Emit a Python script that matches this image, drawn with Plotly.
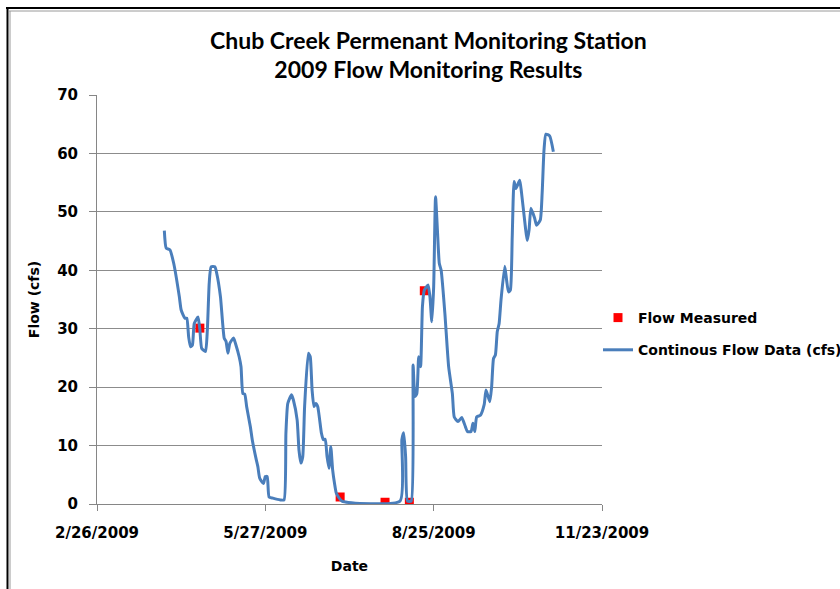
import plotly.graph_objects as go

# Continuous flow data (cfs)
flow_dates = [
    "2009-04-03", "2009-04-04", "2009-04-06", "2009-04-08", "2009-04-11", "2009-04-12",
    "2009-04-14", "2009-04-15", "2009-04-16", "2009-04-17", "2009-04-18", "2009-04-19",
    "2009-04-21", "2009-04-22", "2009-04-23", "2009-04-25", "2009-04-26", "2009-04-27",
    "2009-04-28", "2009-04-30", "2009-05-01", "2009-05-03", "2009-05-05", "2009-05-06",
    "2009-05-07", "2009-05-08", "2009-05-10", "2009-05-11", "2009-05-13", "2009-05-14",
    "2009-05-15", "2009-05-16", "2009-05-17", "2009-05-19", "2009-05-20", "2009-05-22",
    "2009-05-23", "2009-05-24", "2009-05-26", "2009-05-27", "2009-05-28", "2009-05-29",
    "2009-05-31", "2009-06-04", "2009-06-06", "2009-06-07", "2009-06-08", "2009-06-10",
    "2009-06-11", "2009-06-13", "2009-06-14", "2009-06-15", "2009-06-16", "2009-06-17",
    "2009-06-19", "2009-06-20", "2009-06-21", "2009-06-22", "2009-06-23", "2009-06-24",
    "2009-06-26", "2009-06-27", "2009-06-28", "2009-06-29", "2009-06-30", "2009-07-01",
    "2009-07-02", "2009-07-03", "2009-07-04", "2009-07-07", "2009-08-07", "2009-08-08",
    "2009-08-09", "2009-08-10", "2009-08-11", "2009-08-13", "2009-08-14", "2009-08-15",
    "2009-08-16", "2009-08-17", "2009-08-18", "2009-08-19", "2009-08-20", "2009-08-22",
    "2009-08-23", "2009-08-24", "2009-08-25", "2009-08-26", "2009-08-27", "2009-08-28",
    "2009-08-29", "2009-08-31", "2009-09-02", "2009-09-04", "2009-09-05", "2009-09-07",
    "2009-09-09", "2009-09-11", "2009-09-12", "2009-09-14", "2009-09-15", "2009-09-16",
    "2009-09-17", "2009-09-19", "2009-09-21", "2009-09-22", "2009-09-24", "2009-09-25",
    "2009-09-26", "2009-09-27", "2009-09-28", "2009-09-29", "2009-09-30", "2009-10-02",
    "2009-10-03", "2009-10-04", "2009-10-05", "2009-10-06", "2009-10-07", "2009-10-08",
    "2009-10-10", "2009-10-11", "2009-10-13", "2009-10-14", "2009-10-15", "2009-10-16",
    "2009-10-18", "2009-10-19", "2009-10-21", "2009-10-22", "2009-10-23", "2009-10-24",
    "2009-10-26", "2009-10-28",
]
flow_values = [
    46.8, 43.8, 43.5, 41.2, 35.5, 33.2,
    31.8, 31.8, 28.6, 26.9, 27.2, 30.9,
    32.0, 29.8, 26.6, 26.1, 29.8, 37.8,
    40.6, 40.6, 39.5, 35.5, 28.4, 27.8,
    25.8, 27.5, 28.4, 27.5, 25.2, 23.5,
    18.9, 18.8, 16.7, 13.2, 11.0, 7.8,
    6.4, 4.4, 3.5, 4.7, 4.7, 1.2,
    1.0, 0.7, 0.7, 12.1, 17.2, 18.7,
    17.8, 14.4, 9.2, 7.0, 8.1, 16.7,
    25.8, 25.2, 19.5, 16.7, 17.2, 16.7,
    12.1, 11.0, 11.1, 8.1, 6.1, 9.8,
    5.8, 3.5, 1.8, 0.5, 0.5, 11.0,
    12.2, 8.1, 0.5, 0.5, 23.8, 18.4,
    18.9, 25.2, 23.5, 33.8, 36.6, 37.5,
    35.5, 31.2, 37.2, 52.6, 46.9, 41.2,
    40.0, 32.6, 23.5, 18.9, 14.9, 14.1,
    14.8, 13.2, 12.4, 12.4, 13.8, 12.4,
    14.9, 15.2, 17.0, 19.5, 17.5, 20.1,
    24.9, 25.5, 29.5, 30.9, 34.9, 40.7,
    38.3, 36.3, 36.6, 45.7, 55.2, 54.0,
    55.4, 53.2, 47.5, 45.1, 46.9, 50.6,
    48.9, 47.7, 48.6, 53.2, 60.6, 63.3,
    63.0, 60.3,
]

# Flow measured
measured_dates = ["2009-04-22", "2009-07-06", "2009-07-30", "2009-08-12", "2009-08-20"]
measured_values = [30.1, 1.2, 0.3, 0.3, 36.5]

tick_dates = ["2009-02-26", "2009-05-27", "2009-08-25", "2009-11-23"]
tick_labels = ["2/26/2009", "5/27/2009", "8/25/2009", "11/23/2009"]

TITLE_FONT = "Lato, 'Open Sans', sans-serif"
FONT = "'DejaVu Sans', Verdana, sans-serif"

fig = go.Figure()
fig.add_trace(go.Scatter(
    x=measured_dates, y=measured_values, mode="markers", name="<b>Flow Measured</b>",
    marker=dict(symbol="square", size=9, color="#FF0000"),
    legendgroup="m",
))
fig.add_trace(go.Scatter(
    x=flow_dates, y=flow_values, mode="lines", name="<b>Continous Flow Data (cfs)</b>",
    line=dict(color="#4A7EBB", width=3, shape="spline", smoothing=0.5),
    legendgroup="f",
))

L, R, T, B = 97, 602, 95, 504


def px_x(p):
    return (p - L) / (R - L)


def px_y(p):
    return (B - p) / (B - T)


shapes = [
    dict(type="line", xref="paper", yref="paper", x0=px_x(6), x1=px_x(845), y0=px_y(8), y1=px_y(8),
         line=dict(color="#000000", width=2)),
    dict(type="line", xref="paper", yref="paper", x0=px_x(9), x1=px_x(845), y0=px_y(11), y1=px_y(11),
         line=dict(color="#9a9a9a", width=1)),
    dict(type="line", xref="paper", yref="paper", x0=px_x(7.5), x1=px_x(7.5), y0=px_y(7), y1=px_y(595),
         line=dict(color="#000000", width=2)),
    dict(type="line", xref="paper", yref="paper", x0=px_x(10), x1=px_x(10), y0=px_y(11), y1=px_y(595),
         line=dict(color="#9a9a9a", width=1)),
]

fig.update_layout(
    width=840, height=589,
    margin=dict(l=L, r=840 - R, t=T, b=589 - B, autoexpand=False),
    paper_bgcolor="white", plot_bgcolor="white",
    font=dict(family=FONT, color="#000000"),
    title=dict(
        text="<b>Chub Creek Permenant Monitoring Station<br>2009 Flow Monitoring Results</b>",
        x=0.51, xref="container", xanchor="center",
        y=1 - 48.5 / 589, yref="container", yanchor="middle",
        font=dict(size=23, family=TITLE_FONT),
    ),
    showlegend=True,
    legend=dict(
        x=px_x(598), y=px_y(334), xanchor="left", yanchor="middle",
        font=dict(size=14, family=FONT), bgcolor="rgba(0,0,0,0)",
        traceorder="grouped", tracegroupgap=11, itemwidth=30,
    ),
    shapes=shapes,
)
fig.update_xaxes(
    type="date", range=["2009-02-26", "2009-11-23"],
    tickvals=tick_dates, ticktext=["<b>%s</b>" % t for t in tick_labels],
    showgrid=False, showline=True, linecolor="#868686", linewidth=1,
    ticks="outside", ticklen=6, tickcolor="#868686",
    tickfont=dict(size=15, family=FONT), zeroline=False, ticklabelstandoff=9,
    title=dict(text="<b>Date</b>", font=dict(size=14, family=FONT), standoff=20),
)
fig.update_yaxes(
    range=[0, 70], dtick=10, tick0=0,
    showgrid=True, gridcolor="#8c8c8c", gridwidth=1,
    showline=True, linecolor="#868686", linewidth=1,
    ticks="outside", ticklen=7, tickcolor="#868686",
    tickfont=dict(size=15, family=FONT), zeroline=False, ticklabelstandoff=8,
    tickprefix="<b>", ticksuffix="</b>",
    title=dict(text="<b>Flow (cfs)</b>", font=dict(size=14, family=FONT), standoff=14),
)

fig.write_html(
    "out.html",
    config={"displayModeBar": False},
    post_script="document.body.style.margin='0px';document.body.style.overflow='hidden';",
)
